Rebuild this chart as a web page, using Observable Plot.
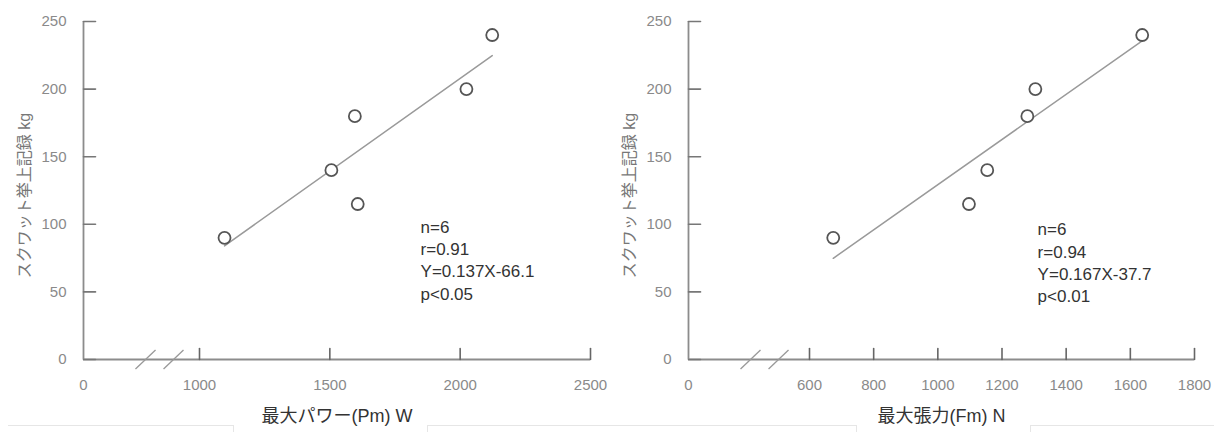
<!DOCTYPE html>
<html lang="ja">
<head>
<meta charset="utf-8">
<script src="https://cdn.jsdelivr.net/npm/d3@7"></script>
<script src="https://cdn.jsdelivr.net/npm/@observablehq/plot@0.6"></script>
<style>
  body { margin: 0; background: #fff; }
  #wrap { position: relative; width: 1214px; height: 432px; display: flex; overflow: hidden; }
  .cell { position: absolute; top: 425px; height: 12px; border-top: 1px solid #e6e6e6; }
</style>
</head>
<body>
<div id="wrap"></div>
<script>
// Squat record (kg) against maximum power Pm (W)
const powerW        = [1096, 1506, 1596, 1607, 2024, 2123];
const powerSquatKg  = [90, 140, 180, 115, 200, 240];
const powerFit      = {slope: 0.137, intercept: -66.1};
const powerStats    = ["n=6", "r=0.91", "Y=0.137X-66.1", "p<0.05"];
const powerTicks    = [0, 1000, 1500, 2000, 2500];

// Squat record (kg) against maximum force Fm (N)
const forceN        = [674, 1097, 1154, 1279, 1304, 1637];
const forceSquatKg  = [90, 115, 140, 180, 200, 240];
const forceFit      = {slope: 0.167, intercept: -37.7};
const forceStats    = ["n=6", "r=0.94", "Y=0.167X-37.7", "p<0.01"];
const forceTicks    = [0, 600, 800, 1000, 1200, 1400, 1600, 1800];

const squatTicks    = [0, 50, 100, 150, 200, 250];
const yLabel        = "スクワット挙上記録 kg";
const powerLabel    = "最大パワー(Pm) W";
const forceLabel    = "最大張力(Fm) N";

const FONT = "Arial, 'Liberation Sans', 'Noto Sans CJK JP', sans-serif";

// a plain straight stroke for inward-pointing axis ticks
const tickShape = {draw(ctx, l) { ctx.moveTo(0, 0); ctx.lineTo(0, -l); }};

function panel({xs, ys, fit, stats, statsAt, xDomain, xRange, xTicks, xLabel, breaks, marginLeft, marginRight}) {
  const points = xs.map((x, i) => ({x, y: ys[i]}));
  const [xmin, xmax] = d3.extent(xs);
  const axisColor = "#8c8c8c";
  return Plot.plot({
    width: 607,
    height: 432,
    marginTop: 21,
    marginBottom: 73,
    marginLeft,
    marginRight,
    x: {type: "linear", domain: xDomain, range: xRange, axis: null},
    y: {domain: [0, 250], axis: null},
    style: {fontFamily: FONT, background: "transparent", overflow: "visible"},
    marks: [
      // axis lines
      Plot.ruleY([0], {x1: xDomain[0], x2: xDomain[xDomain.length - 1], stroke: axisColor, strokeWidth: 1.8}),
      Plot.ruleX([0], {y1: 0, y2: 250, stroke: axisColor, strokeWidth: 1.8}),
      // axis break marks between 0 and the first real tick
      Plot.link(breaks, {x1: d => d[0], x2: d => d[1], y1: -7, y2: 7, stroke: "#999", strokeWidth: 1.3}),
      // inward ticks
      Plot.vector(squatTicks, {x: 0, y: d => d, length: 12, rotate: 90, anchor: "start", shape: tickShape, stroke: "#777", strokeWidth: 1.6}),
      Plot.vector(xTicks.filter(d => d > 0), {x: d => d, y: 0, length: 11, rotate: 0, anchor: "start", shape: tickShape, stroke: "#666", strokeWidth: 1.6}),
      // tick labels
      Plot.text(squatTicks, {x: 0, y: d => d, text: d => String(d), textAnchor: "end", dx: -17, fill: "#8a8a8a", fontSize: 15}),
      Plot.text(xTicks, {x: d => d, y: 0, text: d => String(d), dy: 26, fill: "#8a8a8a", fontSize: 15}),
      // axis titles
      Plot.text([xLabel], {text: d => d, frameAnchor: "bottom", textAnchor: "middle", dy: 62, fill: "#333", fontSize: 18}),
      Plot.text([yLabel], {text: d => d, frameAnchor: "left", textAnchor: "middle", rotate: -90, dx: -59, dy: 5, fill: "#777", fontSize: 16}),
      // regression line from the stated equation
      Plot.line([xmin, xmax], {x: d => d, y: d => fit.slope * d + fit.intercept, stroke: "#9a9a9a", strokeWidth: 1.5}),
      // observations
      Plot.dot(points, {x: "x", y: "y", r: 6, fill: "white", stroke: "#555", strokeWidth: 1.8}),
      // statistics block
      Plot.text([stats.join("\n")], {x: statsAt[0], y: statsAt[1], text: d => d, textAnchor: "start", lineAnchor: "middle", lineHeight: 1.31, fill: "#333", fontSize: 17})
    ]
  });
}

const wrap = document.getElementById("wrap");

wrap.append(panel({
  xs: powerW, ys: powerSquatKg, fit: powerFit, stats: powerStats, statsAt: [1848, 74.2],
  xDomain: [0, 1000, 2500], xRange: [83, 199, 590], xTicks: powerTicks, xLabel: powerLabel,
  breaks: [[448, 621], [690, 862]], marginLeft: 83, marginRight: 17
}));

wrap.append(panel({
  xs: forceN, ys: forceSquatKg, fit: forceFit, stats: forceStats, statsAt: [1311, 72.3],
  xDomain: [0, 600, 1800], xRange: [81, 202, 587], xTicks: forceTicks, xLabel: forceLabel,
  breaks: [[258, 357], [397, 496]], marginLeft: 81, marginRight: 20
}));

// faint cell borders running along the bottom edge
[[8, 233, "right"], [427, 855, "both"], [1030, 1214, "left"]].forEach(([a, b, side]) => {
  const d = document.createElement("div");
  d.className = "cell";
  d.style.left = a + "px";
  d.style.width = (b - a) + "px";
  if (side === "right" || side === "both") d.style.borderRight = "1px solid #e6e6e6";
  if (side === "left" || side === "both") d.style.borderLeft = "1px solid #e6e6e6";
  wrap.append(d);
});
</script>
</body>
</html>
